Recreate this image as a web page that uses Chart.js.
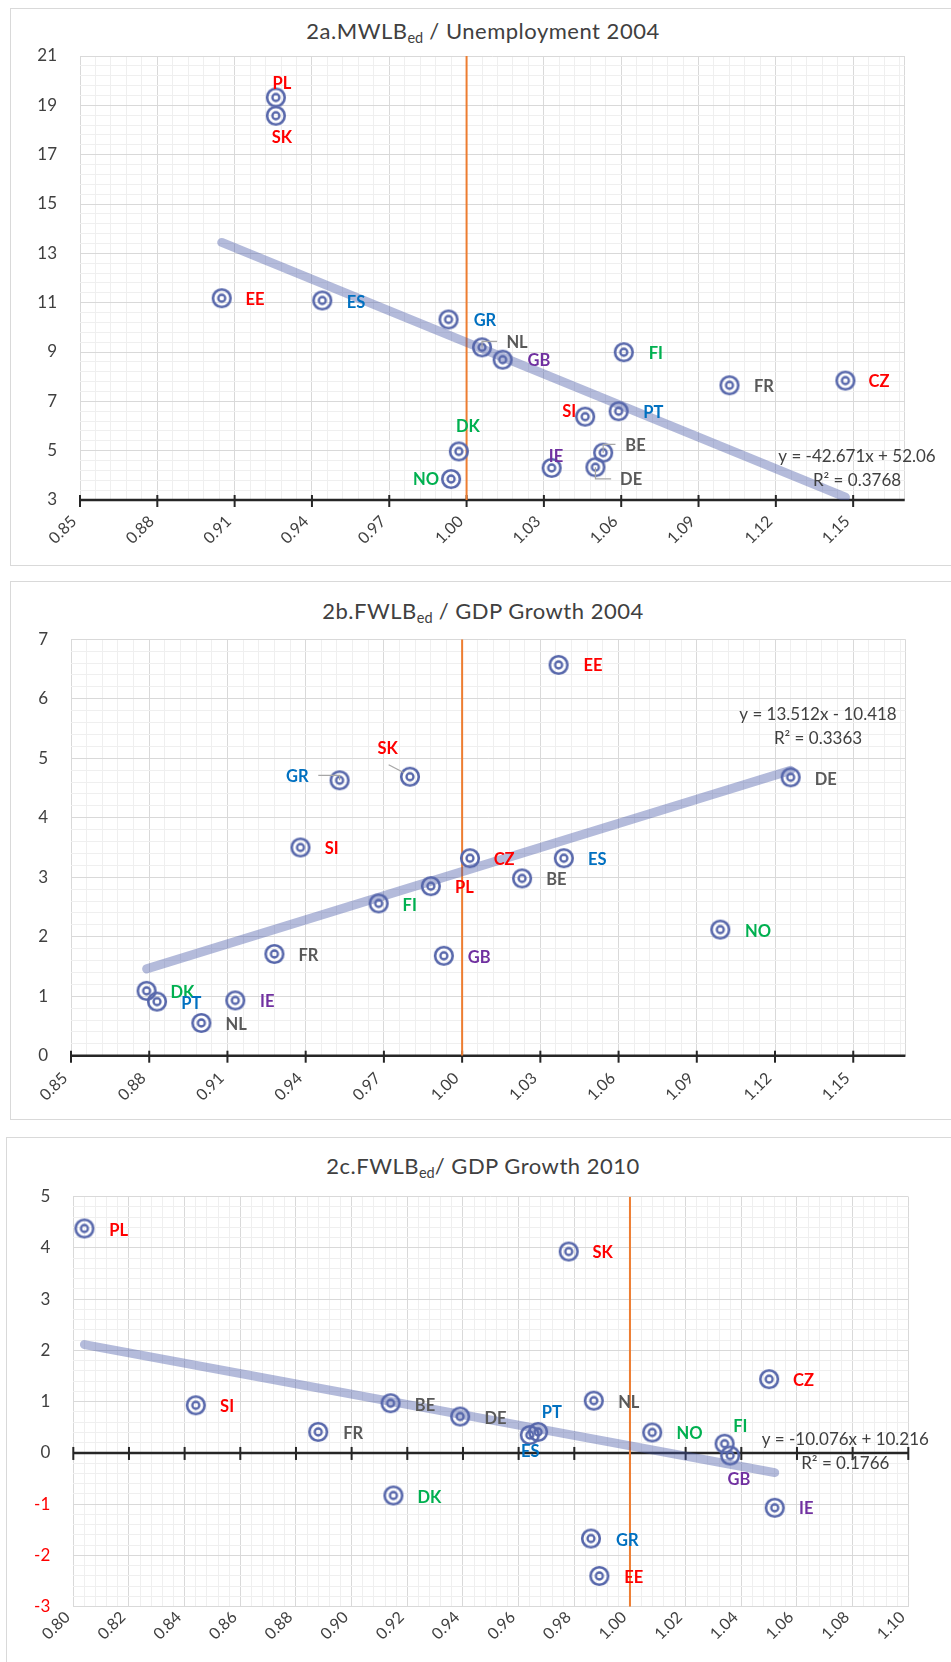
<!DOCTYPE html>
<html>
<head>
<meta charset="utf-8">
<script src="https://cdn.jsdelivr.net/npm/chart.js@4.4.1/dist/chart.umd.min.js"></script>
<style>
  html, body { margin: 0; padding: 0; background: #fff; }
  body { width: 951px; height: 1662px; position: relative; overflow: hidden; font-family: Lato, sans-serif; }
  .box { position: absolute; border: 1px solid #d9d9d9; background: #fff; }
  .title { position: absolute; left: 0; width: 966px; text-align: center; font-size: 22px; letter-spacing: 0.5px; line-height: 1.2; color: #404040; white-space: nowrap; }
  .title sub { font-size: 14.5px; vertical-align: -4px; line-height: 0; letter-spacing: 0; }
  canvas { position: absolute; left: 0; }
</style>
</head>
<body>
<div class="box" style="left:10px; top:8px; width:947px; height:556px;"></div>
<div class="box" style="left:10px; top:581px; width:947px; height:537px;"></div>
<div class="box" style="left:6px; top:1137px; width:951px; height:600px;"></div>

<div class="title" style="top:18px;">2a.MWLB<sub>ed</sub> / Unemployment 2004</div>
<div class="title" style="top:598px;">2b.FWLB<sub>ed</sub> / GDP Growth 2004</div>
<div class="title" style="top:1153px;">2c.FWLB<sub>ed</sub>/ GDP Growth 2010</div>

<canvas id="c1" width="951" height="566" style="top:0px;"></canvas>
<canvas id="c2" width="951" height="554" style="top:566px;"></canvas>
<canvas id="c3" width="951" height="542" style="top:1120px;"></canvas>

<script>
// 2a. MWLBed vs unemployment 2004
const countries1 = ['PL','SK','EE','ES','GR','NL','GB','FI','DK','NO','IE','SI','PT','BE','DE','FR','CZ'];
const mwlb2004 = [0.926,0.926,0.905,0.944,0.993,1.006,1.014,1.061,0.997,0.994,1.033,1.046,1.059,1.053,1.050,1.102,1.147];
const unemp2004 = [19.32,18.58,11.18,11.09,10.32,9.19,8.69,8.99,4.97,3.85,4.30,6.38,6.60,4.92,4.33,7.65,7.84];
const trend1 = [-42.671, 52.06];   // slope, intercept
const eq1 = ['y = -42.671x + 52.06', 'R\u00B2 = 0.3768'];
const xTicks1 = ['0.85','0.88','0.91','0.94','0.97','1.00','1.03','1.06','1.09','1.12','1.15'];
const yTicks1 = ['3','5','7','9','11','13','15','17','19','21'];

// 2b. FWLBed vs GDP growth 2004
const countries2 = ['EE','SK','GR','DE','SI','CZ','ES','BE','PL','FI','NO','FR','GB','DK','PT','IE','NL'];
const fwlb2004 = [1.037,0.980,0.953,1.126,0.938,1.003,1.039,1.023,0.988,0.968,1.099,0.928,0.993,0.879,0.883,0.913,0.900];
const gdp2004 = [6.57,4.69,4.63,4.68,3.50,3.32,3.32,2.98,2.85,2.56,2.12,1.71,1.68,1.09,0.91,0.93,0.55];
const trend2 = [13.512, -10.418];
const eq2 = ['y = 13.512x - 10.418', 'R\u00B2 = 0.3363'];
const xTicks2 = ['0.85','0.88','0.91','0.94','0.97','1.00','1.03','1.06','1.09','1.12','1.15'];
const yTicks2 = ['0','1','2','3','4','5','6','7'];

// 2c. FWLBed vs GDP growth 2010
const countries3 = ['PL','SK','CZ','NL','BE','SI','DE','PT','FR','NO','ES','FI','GB','DK','IE','GR','EE'];
const fwlb2010 = [0.804,0.978,1.050,0.987,0.914,0.844,0.939,0.967,0.888,1.008,0.964,1.034,1.036,0.915,1.052,0.986,0.989];
const gdp2010 = [4.38,3.93,1.44,1.02,0.97,0.93,0.71,0.41,0.41,0.40,0.35,0.18,-0.05,-0.83,-1.07,-1.67,-2.40];
const trend3 = [-10.076, 10.216];
const eq3 = ['y = -10.076x + 10.216', 'R\u00B2 = 0.1766'];
const xTicks3 = ['0.80','0.82','0.84','0.86','0.88','0.90','0.92','0.94','0.96','0.98','1.00','1.02','1.04','1.06','1.08','1.10'];
const yTicks3 = ['-3','-2','-1','0','1','2','3','4','5'];

const refX = 1.0;

// label colours per country group
const red = '#ff0000', blue = '#0070c0', green = '#00b050', purple = '#7030a0', grey = '#595959';
const countryColor = {
  PL: red, SK: red, EE: red, CZ: red, SI: red,
  ES: blue, GR: blue, PT: blue,
  FI: green, DK: green, NO: green,
  GB: purple, IE: purple,
  NL: grey, FR: grey, BE: grey, DE: grey
};

Chart.defaults.font.family = 'Lato, sans-serif';
Chart.defaults.color = '#404040';

// double ring marker
function targetMarker() {
  const c = document.createElement('canvas');
  c.width = 24; c.height = 24;
  const g = c.getContext('2d');
  g.strokeStyle = '#5767ab';
  g.lineWidth = 2.6;
  g.beginPath(); g.arc(12, 12, 8.8, 0, Math.PI * 2); g.stroke();
  g.lineWidth = 2.3;
  g.beginPath(); g.arc(12, 12, 3.5, 0, Math.PI * 2); g.stroke();
  return c;
}
const marker = targetMarker();

// major ticks from the label list, plus minor grid ticks in between
function makeTicks(labels, minorPer, min, max) {
  const majors = labels.map(Number);
  const step = (majors[1] - majors[0]) / minorPer;
  const n = Math.round((max - min) / step + 1e-9);
  const out = [];
  for (let i = 0; i <= n; i++) {
    const v = +(min + i * step).toFixed(6);
    const k = majors.findIndex(m => Math.abs(m - v) < 1e-7);
    out.push({ value: v, major: k >= 0, txt: k >= 0 ? labels[k] : '' });
  }
  if (Math.abs(out[out.length - 1].value - max) > 1e-7) out.push({ value: max, major: false, txt: '' });
  out[0].edge = true;
  out[out.length - 1].edge = true;
  return out;
}

function gridColor(ctx) {
  if (!ctx.tick) return '#f0f0f0';
  return (ctx.tick.major || ctx.tick.edge) ? '#d9d9d9' : '#efefef';
}

function makeChart(id, cfg) {
  const pts = cfg.xs.map((x, i) => ({ x: x, y: cfg.ys[i] }));
  const xmin = Math.min(...cfg.xs), xmax = Math.max(...cfg.xs);
  const f = x => cfg.trend[0] * x + cfg.trend[1];

  const axisPlugin = {
    id: 'axisLine' + id,
    beforeDatasetsDraw(chart) {
      const { ctx, chartArea, scales } = chart;
      const yAx = scales.y.getPixelForValue(cfg.axisAt);
      ctx.save();
      ctx.strokeStyle = '#262626';
      ctx.lineWidth = 2.5;
      ctx.beginPath();
      ctx.moveTo(chartArea.left, yAx);
      ctx.lineTo(chartArea.right, yAx);
      ctx.stroke();
      ctx.lineWidth = 2;
      scales.x.ticks.filter(t => t.major).forEach(t => {
        const px = scales.x.getPixelForValue(t.value);
        ctx.beginPath();
        ctx.moveTo(px, yAx - cfg.tickUp);
        ctx.lineTo(px, yAx + 7);
        ctx.stroke();
      });
      ctx.restore();
    }
  };

  const labelPlugin = {
    id: 'pointLabels' + id,
    afterDatasetsDraw(chart) {
      const { ctx } = chart;
      const meta = chart.getDatasetMeta(2);
      ctx.save();
      ctx.font = 'bold 16.5px Lato, sans-serif';
      ctx.textAlign = 'center';
      ctx.textBaseline = 'middle';
      meta.data.forEach((el, i) => {
        const name = cfg.names[i];
        const off = cfg.offsets[name] || [34, 2];
        const lx = el.x + off[0], ly = el.y + off[1];
        const lead = cfg.leaders[name];
        if (lead) {
          ctx.strokeStyle = '#a6a6a6';
          ctx.lineWidth = 1.2;
          ctx.beginPath();
          if (lead === 'right') {
            ctx.moveTo(el.x, el.y); ctx.lineTo(el.x, ly - 1); ctx.lineTo(lx - 20, ly - 1);
          } else if (lead === 'left') {
            ctx.moveTo(el.x, el.y); ctx.lineTo(el.x, ly - 1); ctx.lineTo(lx + 21, ly - 1);
          } else {
            ctx.moveTo(lx + 1, ly + 16); ctx.lineTo(el.x - 6, el.y - 4);
          }
          ctx.stroke();
        }
        ctx.fillStyle = countryColor[name];
        ctx.fillText(name, lx, ly);
      });
      // trendline equation
      ctx.font = '17px Lato, sans-serif';
      ctx.fillStyle = '#404040';
      ctx.fillText(cfg.eq[0], cfg.eqPos[0], cfg.eqPos[1]);
      ctx.fillText(cfg.eq[1], cfg.eqPos[0], cfg.eqPos[1] + 23.5);
      ctx.restore();
    }
  };

  const xT = makeTicks(cfg.xTicks, 5, cfg.xMin, cfg.xMax);
  const yT = makeTicks(cfg.yTicks, 5, cfg.yMin, cfg.yMax);

  return new Chart(document.getElementById(id), {
    type: 'scatter',
    data: {
      datasets: [
        {
          type: 'line', data: [{ x: refX, y: cfg.yMin }, { x: refX, y: cfg.yMax }],
          borderColor: '#ed7d31', borderWidth: 2, pointRadius: 0, order: 3
        },
        {
          type: 'line', data: [{ x: xmin, y: f(xmin) }, { x: xmax, y: f(xmax) }],
          borderColor: 'rgba(68,84,164,0.4)', borderWidth: 9, borderCapStyle: 'round',
          pointRadius: 0, order: 2
        },
        {
          type: 'scatter', data: pts, pointStyle: marker, pointRadius: 9, order: 1
        }
      ]
    },
    options: {
      responsive: false,
      animation: false,
      events: [],
      layout: { padding: cfg.padding },
      plugins: { legend: { display: false }, tooltip: { enabled: false } },
      scales: {
        x: {
          type: 'linear', min: cfg.xMin, max: cfg.xMax,
          afterBuildTicks: s => { s.ticks = xT.map(t => Object.assign({}, t)); },
          afterFit: s => { s.height = cfg.xHeight; },
          border: { display: false },
          grid: { color: gridColor, lineWidth: 1, drawTicks: false },
          ticks: {
            autoSkip: false, minRotation: 45, maxRotation: 45,
            padding: cfg.xPad, labelOffset: -6,
            color: '#404040', font: { size: 16 },
            callback: (v, i, ticks) => ticks[i].txt
          }
        },
        y: {
          type: 'linear', min: cfg.yMin, max: cfg.yMax,
          afterBuildTicks: s => { s.ticks = yT.map(t => Object.assign({}, t)); },
          afterFit: s => { s.width = cfg.yWidth; },
          border: { display: false },
          grid: { color: gridColor, lineWidth: 1, drawTicks: false },
          ticks: {
            autoSkip: false, padding: 23,
            color: ctx => (ctx.tick && ctx.tick.value < 0) ? red : '#404040',
            font: { size: 17 },
            callback: (v, i, ticks) => ticks[i].txt
          }
        }
      }
    },
    plugins: [axisPlugin, labelPlugin]
  });
}

makeChart('c1', {
  names: countries1, xs: mwlb2004, ys: unemp2004, trend: trend1, eq: eq1,
  xTicks: xTicks1, yTicks: yTicks1, xMin: 0.85, xMax: 1.17, yMin: 3, yMax: 21,
  axisAt: 3, tickUp: 5, xPad: 12,
  padding: { left: 0, right: 46.3, top: 56, bottom: 6 }, xHeight: 60, yWidth: 80,
  eqPos: [857, 457],
  offsets: {
    PL: [6, -14], SK: [6, 21.6], EE: [33.3, 1.7], ES: [33.7, 2], GR: [36.4, 1.7],
    NL: [35, -5], GB: [36.3, 1.3], FI: [32, 1], DK: [9, -24.6], NO: [-25, 1],
    IE: [4.3, -11.3], SI: [-16, -5], PT: [34.7, 1.4], BE: [32.3, -7.3], DE: [35.7, 12.7],
    FR: [34.4, 1.4], CZ: [33.5, 1]
  },
  leaders: { NL: 'right', BE: 'right', DE: 'right' }
});

makeChart('c2', {
  names: countries2, xs: fwlb2004, ys: gdp2004, trend: trend2, eq: eq2,
  xTicks: xTicks2, yTicks: yTicks2, xMin: 0.85, xMax: 1.17, yMin: 0, yMax: 7,
  axisAt: 0, tickUp: 5, xPad: 13,
  padding: { left: 0, right: 45.6, top: 73.3, bottom: 4.3 }, xHeight: 60, yWidth: 71,
  eqPos: [818, 149],
  offsets: {
    SK: [-22.3, -28], GR: [-42.3, -4], SI: [31.2, 1.6], CZ: [34.2, 1.7], PL: [33.5, 1.6],
    FI: [31, 2.3], FR: [34.1, 2], GB: [35.3, 2], DK: [35.7, 1.7], PT: [34.2, 2.3],
    IE: [32, 1.4], NL: [34.7, 2], EE: [34.3, 1], DE: [35, 2], ES: [33.5, 1.3],
    BE: [34.3, 1.7], NO: [37.7, 1.7]
  },
  leaders: { GR: 'left', SK: 'diag' }
});

makeChart('c3', {
  names: countries3, xs: fwlb2010, ys: gdp2010, trend: trend3, eq: eq3,
  xTicks: xTicks3, yTicks: yTicks3, xMin: 0.80, xMax: 1.10, yMin: -3, yMax: 5,
  axisAt: 0, tickUp: 6, xPad: 1,
  padding: { left: 0, right: 42.7, top: 76.7, bottom: 0 }, xHeight: 55.3, yWidth: 73.3,
  eqPos: [845.3, 320],
  offsets: {
    PL: [34.3, 2], SI: [31.3, 1.4], FR: [34.9, 1.6], BE: [34.4, 2], DE: [35.3, 2],
    DK: [36, 1.7], SK: [34, 1.6], ES: [0.4, 16.7], PT: [13.7, -19], NL: [35, 1.6],
    NO: [37.4, 1.3], FI: [15.7, -17], GB: [8.7, 24.3], CZ: [34.4, 2], IE: [31.6, 1.3],
    GR: [36.3, 1.7], EE: [34.4, 2]
  },
  leaders: {}
});
</script>
</body>
</html>
